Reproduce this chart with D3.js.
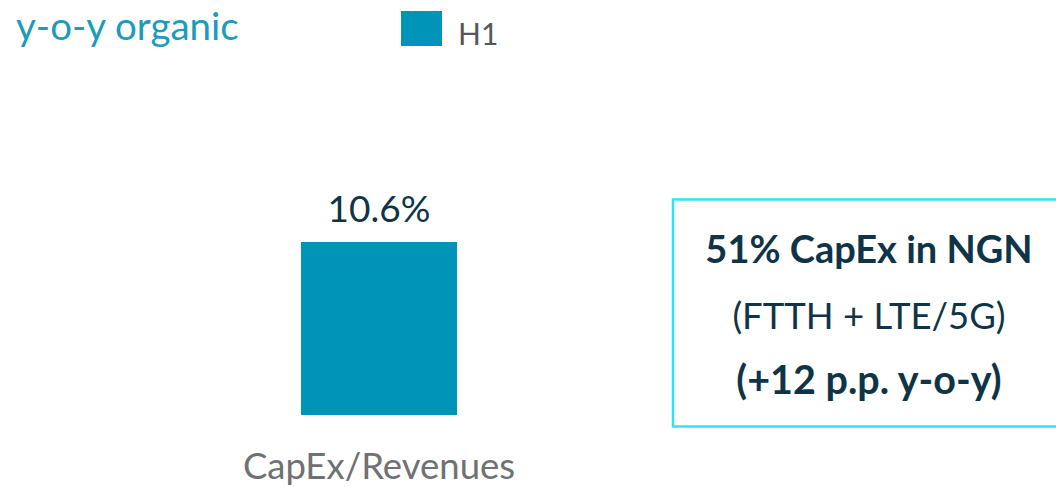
<!DOCTYPE html>
<html>
<head>
<meta charset="utf-8">
<script src="https://cdn.jsdelivr.net/npm/d3@7"></script>
<style>
  html, body { margin: 0; padding: 0; background: #ffffff; }
  svg { display: block; font-family: Lato, "Open Sans", sans-serif; }
</style>
</head>
<body>
<svg id="chart" width="1056" height="487"></svg>
<script>
const categories = ["CapEx/Revenues"];
const seriesName = "H1";
const values = [10.6];
const valueLabels = ["10.6%"];
const title = "y-o-y organic";
const noteLines = ["51% CapEx in NGN", "(FTTH + LTE/5G)", "(+12 p.p. y-o-y)"];
const noteBold = [true, false, true];

const svg = d3.select("#chart");
const barColor = "#0094b9";

const x = d3.scaleBand().domain(categories).range([301, 457]).paddingInner(0).paddingOuter(0);
const y = d3.scaleLinear().domain([0, 10.6]).range([415, 242]);

// title
svg.append("text").attr("x", 16).attr("y", 40)
  .attr("fill", "#1c9bbd").attr("font-size", 38.5).text(title);

// legend
svg.append("rect").attr("x", 401).attr("y", 11).attr("width", 41).attr("height", 35).attr("fill", barColor);
svg.append("text").attr("x", 458).attr("y", 45).attr("fill", "#55575a").attr("font-size", 30).text(seriesName);

// bars
svg.selectAll("rect.bar").data(values).join("rect").attr("class", "bar")
  .attr("x", (d, i) => x(categories[i]))
  .attr("y", d => y(d))
  .attr("width", x.bandwidth())
  .attr("height", d => y(0) - y(d))
  .attr("fill", barColor);

svg.selectAll("text.vlabel").data(values).join("text").attr("class", "vlabel")
  .attr("x", (d, i) => x(categories[i]) + x.bandwidth() / 2)
  .attr("y", d => y(d) - 20)
  .attr("text-anchor", "middle").attr("fill", "#0f3448").attr("font-size", 37)
  .text((d, i) => valueLabels[i]);

// category axis labels
svg.selectAll("text.cat").data(categories).join("text").attr("class", "cat")
  .attr("x", d => x(d) + x.bandwidth() / 2)
  .attr("y", 479)
  .attr("text-anchor", "middle").attr("fill", "#707174").attr("font-size", 36.5)
  .text(d => d);

// note box
svg.append("rect").attr("x", 673).attr("y", 199.5).attr("width", 400).attr("height", 227)
  .attr("fill", "none").attr("stroke", "#33e2f2").attr("stroke-width", 2.5);

const noteY = [263, 329, 394];
const noteSize = [38, 36.5, 39.5];
noteLines.forEach((t, i) => {
  svg.append("text").attr("x", 869).attr("y", noteY[i])
    .attr("text-anchor", "middle").attr("fill", "#0f3448")
    .attr("font-size", noteSize[i]).attr("font-weight", noteBold[i] ? 700 : 400)
    .text(t);
});
</script>
</body>
</html>
